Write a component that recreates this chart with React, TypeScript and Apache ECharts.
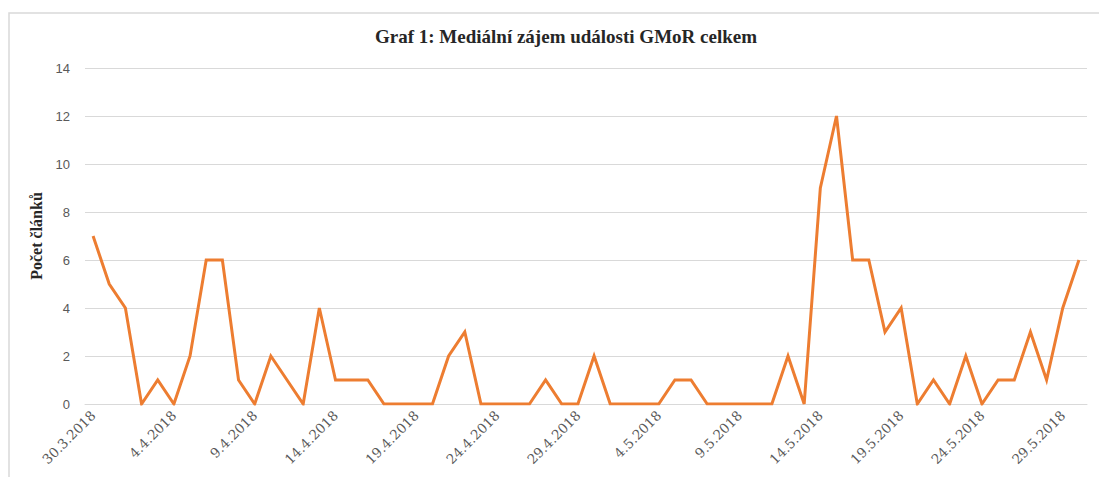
import React, { useEffect, useRef } from "react";
import * as echarts from "echarts";

const dates: string[] = [
  "30.3.2018", "31.3.2018", "1.4.2018", "2.4.2018", "3.4.2018", "4.4.2018", "5.4.2018", "6.4.2018",
  "7.4.2018", "8.4.2018", "9.4.2018", "10.4.2018", "11.4.2018", "12.4.2018", "13.4.2018", "14.4.2018",
  "15.4.2018", "16.4.2018", "17.4.2018", "18.4.2018", "19.4.2018", "20.4.2018", "21.4.2018", "22.4.2018",
  "23.4.2018", "24.4.2018", "25.4.2018", "26.4.2018", "27.4.2018", "28.4.2018", "29.4.2018", "30.4.2018",
  "1.5.2018", "2.5.2018", "3.5.2018", "4.5.2018", "5.5.2018", "6.5.2018", "7.5.2018", "8.5.2018",
  "9.5.2018", "10.5.2018", "11.5.2018", "12.5.2018", "13.5.2018", "14.5.2018", "15.5.2018", "16.5.2018",
  "17.5.2018", "18.5.2018", "19.5.2018", "20.5.2018", "21.5.2018", "22.5.2018", "23.5.2018", "24.5.2018",
  "25.5.2018", "26.5.2018", "27.5.2018", "28.5.2018", "29.5.2018", "30.5.2018",
];

const counts: number[] = [
  7, 5, 4, 0, 1, 0, 2, 6, 6, 1, 0, 2, 1, 0,
  4, 1, 1, 1, 0, 0, 0, 0,
  2, 3, 0, 0, 0, 0, 1, 0, 0, 2,
  0, 0, 0, 0, 1, 1, 0, 0, 0, 0, 0, 2, 0,
  9, 12, 6, 6, 3, 4, 0, 1, 0, 2, 0, 1, 1, 3, 1, 4, 6,
];

const yTicks = { min: 0, max: 14, interval: 2 };

const titleText = "Graf 1: Mediální zájem události GMoR celkem";
const yAxisName = "Počet článků";

export default function App() {
  const ref = useRef<HTMLDivElement>(null);
  useEffect(() => {
    if (!ref.current) return;
    const chart = echarts.init(ref.current, undefined, { renderer: "svg" });
    chart.setOption({
      animation: false,
      backgroundColor: "#ffffff",
      title: {
        text: titleText,
        left: 561,
        textAlign: "center",
        top: 22,
        textStyle: {
          fontFamily: "Liberation Serif",
          fontWeight: "bold",
          fontSize: 19,
          color: "#262626",
        },
      },
      graphic: [
        {
          type: "rect",
          shape: { x: 9, y: 13, width: 1100, height: 480 },
          style: { fill: "none", stroke: "#d9d9d9", lineWidth: 1.5 },
          silent: true,
        },
      ],
      grid: {
        left: 85,
        right: 12,
        top: 68,
        bottom: 73,
        containLabel: false,
        outerBoundsMode: "none",
      },
      xAxis: {
        type: "category",
        data: dates,
        boundaryGap: true,
        axisLine: { show: true, lineStyle: { color: "#d9d9d9", width: 1 } },
        axisTick: { show: false },
        axisLabel: {
          interval: 4,
          rotate: 45,
          margin: 9,
          fontFamily: "DejaVu Serif",
          fontSize: 13.5,
          color: "#595959",
        },
      },
      yAxis: {
        type: "value",
        min: yTicks.min,
        max: yTicks.max,
        interval: yTicks.interval,
        name: yAxisName,
        nameLocation: "middle",
        nameGap: 40,
        nameRotate: 90,
        nameTextStyle: {
          fontFamily: "Liberation Serif",
          fontWeight: "bold",
          fontSize: 16,
          color: "#262626",
        },
        axisLine: { show: false },
        axisTick: { show: false },
        axisLabel: {
          margin: 15,
          fontFamily: "Liberation Sans",
          fontSize: 13,
          color: "#595959",
        },
        splitLine: { lineStyle: { color: "#d9d9d9", width: 1 } },
      },
      series: [
        {
          type: "line",
          data: counts,
          symbol: "none",
          lineStyle: { color: "#ED7D31", width: 3, join: "miter" },
          itemStyle: { color: "#ED7D31" },
        },
      ],
    });
    return () => chart.dispose();
  }, []);
  return (
    <div
      ref={ref}
      style={{ position: "fixed", left: 0, top: 0, width: 1099, height: 477 }}
    />
  );
}
